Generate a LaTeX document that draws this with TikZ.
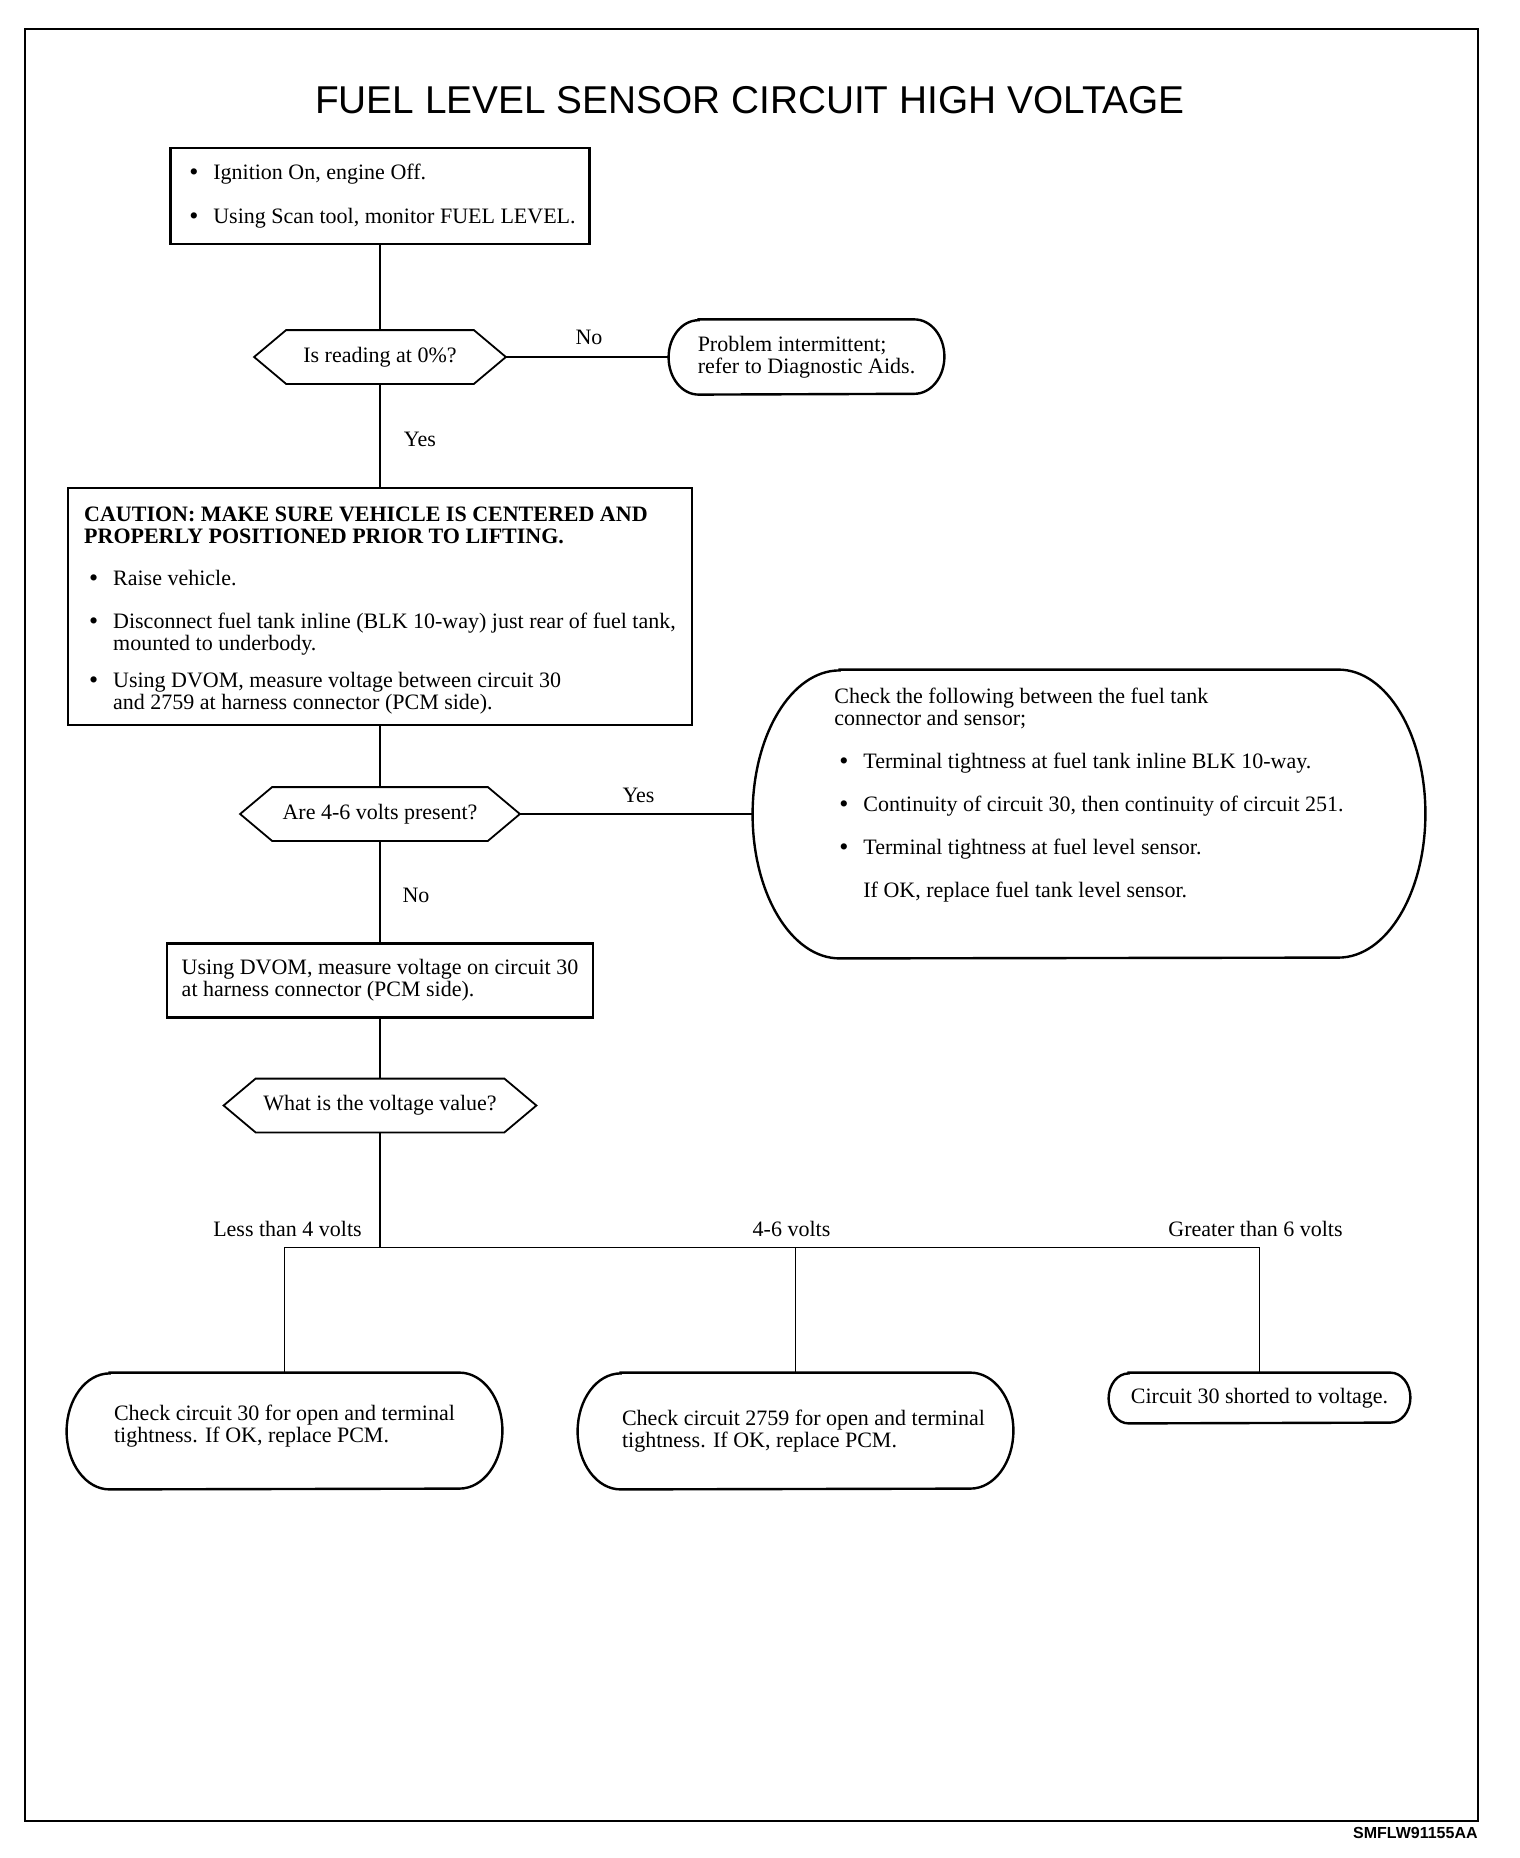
\documentclass[tikz,border=0pt]{standalone}
\usepackage{fontspec}
\setmainfont{Liberation Serif}
\newfontfamily\headfont{Liberation Sans}
\usetikzlibrary{calc}
\newcommand{\bul}{\makebox[14.5pt][l]{\hspace{2.5pt}\raisebox{-0.5pt}{\fontsize{13}{13}\selectfont\textbullet}}}
\newcommand{\ind}{\hspace*{14.5pt}}

\begin{document}
\begin{tikzpicture}[x=0.5pt, y=-0.5pt,
            txt/.style={font=\fontsize{11}{11}\selectfont, align=left, inner sep=0pt},
            bx/.style={txt, rectangle, draw=black, line width=1.3pt},
            term/.style={txt, rectangle},
            hexq/.style={txt, rectangle, minimum height=26.5pt},
            ln/.style={draw=black, line width=0.8pt},
            lbl/.style={font=\fontsize{11}{11}\selectfont, inner sep=0pt}]
    \useasboundingbox (0,0) rectangle (1520,1858);
    \draw[line width=1.3pt] (25,29) rectangle (1478,1821);
    \node[font=\headfont\fontsize{19.4}{19.4}\selectfont, anchor=base, inner sep=0pt] (title) at (750,113) {FUEL LEVEL SENSOR CIRCUIT HIGH VOLTAGE};

    % steps and questions
    \node[bx, minimum width=209.5pt, minimum height=48pt] (ign) at (380,196)
        {\bul Ignition On, engine Off.\\[11pt]\bul Using Scan tool, monitor FUEL LEVEL.};
    \node[hexq, minimum width=125.5pt] (qzero) at (380,357) {Is reading at 0\%?};
    \node[term, minimum width=137.5pt, minimum height=37.2pt] (intm) at (806.5,357)
        {Problem intermittent;\\refer to Diagnostic Aids.};
    \node[bx, minimum width=312pt, minimum height=118.5pt] (lift) at (380,606.5)
        {\mbox{}\\[0.3pt]
         \textbf{CAUTION: MAKE SURE VEHICLE IS CENTERED AND}\\
         \textbf{PROPERLY POSITIONED PRIOR TO LIFTING.}\\[10pt]
         \bul Raise vehicle.\\[10.5pt]
         \bul Disconnect fuel tank inline (BLK 10-way) just rear of fuel tank,\\
         \ind mounted to underbody.\\[7.5pt]
         \bul Using DVOM, measure voltage between circuit 30\\
         \ind and 2759 at harness connector (PCM side).};
    \node[hexq, minimum width=139.5pt] (qvolt) at (380,814) {Are 4-6 volts present?};
    \node[term, minimum width=336pt, minimum height=144pt] (chk) at (1089,814)
        {Check the following between the fuel tank\\
         connector and sensor;\\[10.5pt]
         \bul Terminal tightness at fuel tank inline BLK 10-way.\\[10.5pt]
         \bul Continuity of circuit 30, then continuity of circuit 251.\\[10.5pt]
         \bul Terminal tightness at fuel level sensor.\\[10.5pt]
         \ind If OK, replace fuel tank level sensor.\\[10pt]\mbox{}};
    \node[bx, minimum width=213pt, minimum height=37pt] (meas) at (380,980.5)
        {Using DVOM, measure voltage on circuit 30\\at harness connector (PCM side).};
    \node[hexq, minimum width=156pt] (qval) at (380,1105.5) {What is the voltage value?};
    \coordinate (br) at (380,1247.5);
    \node[term, minimum width=217.5pt, minimum height=58pt] (lowv) at (284.5,1431)
        {Check circuit 30 for open and terminal\\tightness. If OK, replace PCM.\\[-3.6pt]\mbox{}};
    \node[term, minimum width=217.5pt, minimum height=58pt] (midv) at (795.5,1431)
        {\hspace*{8pt}Check circuit 2759 for open and terminal\\\hspace*{8pt}tightness. If OK, replace PCM.};
    \node[term, minimum width=150.5pt, minimum height=25pt] (highv) at (1259.5,1398)
        {Circuit 30 shorted to voltage.};

    % outlines
    \foreach \n in {qzero,qvolt,qval}
        \draw[line width=0.9pt] (\n.west) -- ($(\n.north west)+(16pt,0pt)$) -- ($(\n.north east)-(16pt,0pt)$)
            -- (\n.east) -- ($(\n.south east)-(16pt,0pt)$) -- ($(\n.south west)+(16pt,0pt)$) -- cycle;
    \foreach \n/\rx/\ry in {intm/15pt/18.6pt, chk/43.5pt/72pt, lowv/21.5pt/29pt, midv/21.5pt/29pt, highv/10pt/12.5pt}
        \draw[line width=1.2pt] ($(\n.north west)+(\rx,0pt)$) -- ($(\n.north east)-(\rx,0pt)$)
            arc[start angle=90, end angle=-90, x radius=\rx, y radius=\ry]
            -- ($(\n.south west)+(\rx,0pt)$)
            arc[start angle=270, end angle=90, x radius=\rx, y radius=\ry] -- cycle;

    % connectors
    \draw[ln] (ign) -- (qzero);
    \draw[ln] (qzero) -- (intm);
    \draw[ln] (qzero) -- (lift);
    \draw[ln] (lift) -- (qvolt);
    \draw[ln] (qvolt) -- (chk);
    \draw[ln] (qvolt) -- (meas);
    \draw[ln] (meas) -- (qval);
    \draw[ln] (qval) -- (br);
    \draw[ln] (lowv) -- (lowv |- br) -- (highv |- br) -- (highv);
    \draw[ln] (midv) -- (midv |- br);

    % labels
    \node[lbl] (nozero) at (589,337.5) {No};
    \node[lbl] (yeszero) at (420,439.5) {Yes};
    \node[lbl] (yesvolt) at (638.5,795) {Yes};
    \node[lbl] (novolt) at (416,895.5) {No};
    \node[lbl] (lesslbl) at (287.5,1228.5) {Less than 4 volts};
    \node[lbl] (midlbl) at (791.5,1228.5) {4-6 volts};
    \node[lbl] (morelbl) at (1255.5,1228.5) {Greater than 6 volts};
    \node[font=\headfont\bfseries\fontsize{8}{8}\selectfont, anchor=base east, inner sep=0pt] (code) at (1478,1838) {SMFLW91155AA};
\end{tikzpicture}
\end{document}
